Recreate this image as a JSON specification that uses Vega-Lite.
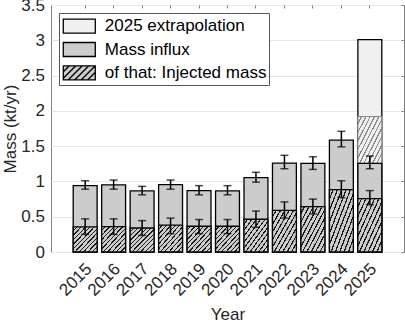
{
  "$schema": "https://vega.github.io/schema/vega-lite/v6.json",
  "width": 353,
  "height": 247,
  "autosize": {"type": "none"},
  "padding": {"left": 51, "top": 5, "right": 1, "bottom": 68},
  "config": {
    "font": "Liberation Sans",
    "view": {"stroke": "#808080", "strokeWidth": 1},
    "axis": {
      "labelFont": "Liberation Sans",
      "labelFontSize": 17,
      "labelColor": "#262626",
      "titleFont": "Liberation Sans",
      "titleFontSize": 17,
      "titleFontWeight": "normal",
      "titleColor": "#262626",
      "domain": false,
      "gridColor": "#e6e6e6",
      "gridWidth": 1,
      "tickColor": "#808080"
    }
  },
  "datasets": {
    "main": [
      {"year": "2015", "influx": 0.94, "ilo": 0.89, "ihi": 1.01, "injected": 0.355, "jlo": 0.25, "jhi": 0.47},
      {"year": "2016", "influx": 0.95, "ilo": 0.89, "ihi": 1.02, "injected": 0.36, "jlo": 0.25, "jhi": 0.47},
      {"year": "2017", "influx": 0.865, "ilo": 0.81, "ihi": 0.93, "injected": 0.34, "jlo": 0.235, "jhi": 0.445},
      {"year": "2018", "influx": 0.955, "ilo": 0.89, "ihi": 1.02, "injected": 0.38, "jlo": 0.26, "jhi": 0.48},
      {"year": "2019", "influx": 0.87, "ilo": 0.81, "ihi": 0.94, "injected": 0.365, "jlo": 0.26, "jhi": 0.46},
      {"year": "2020", "influx": 0.865, "ilo": 0.81, "ihi": 0.94, "injected": 0.365, "jlo": 0.26, "jhi": 0.46},
      {"year": "2021", "influx": 1.055, "ilo": 0.99, "ihi": 1.13, "injected": 0.464, "jlo": 0.35, "jhi": 0.58},
      {"year": "2022", "influx": 1.26, "ilo": 1.18, "ihi": 1.37, "injected": 0.59, "jlo": 0.48, "jhi": 0.71},
      {"year": "2023", "influx": 1.255, "ilo": 1.17, "ihi": 1.35, "injected": 0.644, "jlo": 0.54, "jhi": 0.75},
      {"year": "2024", "influx": 1.585, "ilo": 1.49, "ihi": 1.71, "injected": 0.885, "jlo": 0.77, "jhi": 1.01},
      {"year": "2025", "influx": 1.255, "ilo": 1.18, "ihi": 1.36, "injected": 0.757, "jlo": 0.67, "jhi": 0.87}
    ],
    "extra": [
      {"year": "2025", "total": 3.01, "base": 1.255, "injected": 1.92}
    ]
  },
  "layer": [
    {
      "data": {"name": "extra"},
      "mark": {"type": "bar", "stroke": "black", "strokeWidth": 1.3},
      "encoding": {
        "x": {
          "field": "year", "type": "ordinal",
          "scale": {"domain": ["2015","2016","2017","2018","2019","2020","2021","2022","2023","2024","2025"], "paddingInner": 0.16, "paddingOuter": 0.78},
          "axis": {"orient": "bottom", "labelAngle": -45, "labelAlign": "right", "labelBaseline": "middle", "labelPadding": 14, "labelOffset": 4, "ticks": false, "grid": false, "title": "Year", "titleY": 67, "titleBaseline": "alphabetic"}
        },
        "y": {
          "field": "total", "type": "quantitative",
          "scale": {"domain": [0, 3.5], "nice": false, "zero": true},
          "axis": {"orient": "left", "values": [0, 0.5, 1, 1.5, 2, 2.5, 3, 3.5], "format": "~g", "grid": true, "ticks": false, "labelPadding": 6.5, "title": "Mass (kt/yr)", "titlePadding": 1}
        },
        "fill": {
          "datum": "2025 extrapolation", "type": "nominal",
          "scale": {"domain": ["2025 extrapolation", "Mass influx", "of that: Injected mass"], "range": ["#f0f0f0", "#cccccc", "#cccccc"]},
          "legend": {
            "orient": "top-left", "offset": 8, "title": null,
            "labelFont": "Liberation Sans", "labelFontSize": 17, "labelColor": "black", "labelLimit": 300,
            "symbolType": "M-1.6,-0.7H1.6V0.7H-1.6Z", "symbolSize": 400, "symbolStrokeColor": "black", "symbolStrokeWidth": 1.3, "symbolOpacity": 1,
            "padding": 2.2, "rowPadding": 2.3, "labelOffset": 14.5, "symbolOffset": 7.1,
            "strokeColor": "#555555", "fillColor": "white", "cornerRadius": 0,
            "encode": {"symbols": {"update": {"shape": {"signal": "datum.value === 'of that: Injected mass' ? 'M-1.6,-0.7H1.6V0.7H-1.6Z M-1.6,-0.1L-1.0,-0.7 M-1.6,0.55L-0.35,-0.7 M-1.1,0.7L0.3,-0.7 M-0.45,0.7L0.95,-0.7 M0.2,0.7L1.6,-0.7 M0.85,0.7L1.6,-0.05' : 'M-1.6,-0.7H1.6V0.7H-1.6Z'"}}}}
          }
        }
      }
    },
    {
      "data": {"name": "extra"},
      "mark": {"type": "bar", "stroke": "#8a8a8a", "strokeWidth": 1,
        "fill": {"gradient": "linear", "x1": 0, "y1": 0, "x2": 1, "y2": 1, "stops": [
          {"offset": 0, "color": "#f0f0f0"},
          {"offset": 0.0636, "color": "#f0f0f0"}, {"offset": 0.0636, "color": "#8a8a8a"}, {"offset": 0.0909, "color": "#8a8a8a"}, {"offset": 0.0909, "color": "#f0f0f0"},
          {"offset": 0.1545, "color": "#f0f0f0"}, {"offset": 0.1545, "color": "#8a8a8a"}, {"offset": 0.1818, "color": "#8a8a8a"}, {"offset": 0.1818, "color": "#f0f0f0"},
          {"offset": 0.2455, "color": "#f0f0f0"}, {"offset": 0.2455, "color": "#8a8a8a"}, {"offset": 0.2727, "color": "#8a8a8a"}, {"offset": 0.2727, "color": "#f0f0f0"},
          {"offset": 0.3364, "color": "#f0f0f0"}, {"offset": 0.3364, "color": "#8a8a8a"}, {"offset": 0.3636, "color": "#8a8a8a"}, {"offset": 0.3636, "color": "#f0f0f0"},
          {"offset": 0.4273, "color": "#f0f0f0"}, {"offset": 0.4273, "color": "#8a8a8a"}, {"offset": 0.4545, "color": "#8a8a8a"}, {"offset": 0.4545, "color": "#f0f0f0"},
          {"offset": 0.5182, "color": "#f0f0f0"}, {"offset": 0.5182, "color": "#8a8a8a"}, {"offset": 0.5455, "color": "#8a8a8a"}, {"offset": 0.5455, "color": "#f0f0f0"},
          {"offset": 0.6091, "color": "#f0f0f0"}, {"offset": 0.6091, "color": "#8a8a8a"}, {"offset": 0.6364, "color": "#8a8a8a"}, {"offset": 0.6364, "color": "#f0f0f0"},
          {"offset": 0.7, "color": "#f0f0f0"}, {"offset": 0.7, "color": "#8a8a8a"}, {"offset": 0.7273, "color": "#8a8a8a"}, {"offset": 0.7273, "color": "#f0f0f0"},
          {"offset": 0.7909, "color": "#f0f0f0"}, {"offset": 0.7909, "color": "#8a8a8a"}, {"offset": 0.8182, "color": "#8a8a8a"}, {"offset": 0.8182, "color": "#f0f0f0"},
          {"offset": 0.8818, "color": "#f0f0f0"}, {"offset": 0.8818, "color": "#8a8a8a"}, {"offset": 0.9091, "color": "#8a8a8a"}, {"offset": 0.9091, "color": "#f0f0f0"},
          {"offset": 0.9727, "color": "#f0f0f0"}, {"offset": 0.9727, "color": "#8a8a8a"}, {"offset": 1, "color": "#8a8a8a"}
        ]}},
      "encoding": {
        "x": {"field": "year", "type": "ordinal", "axis": null},
        "y": {"field": "injected", "type": "quantitative", "axis": null},
        "y2": {"field": "base"}
      }
    },
    {
      "data": {"name": "main"},
      "mark": {"type": "bar", "stroke": "black", "strokeWidth": 1.3},
      "encoding": {
        "x": {"field": "year", "type": "ordinal", "axis": null},
        "y": {"field": "influx", "type": "quantitative", "axis": null},
        "fill": {"datum": "Mass influx", "type": "nominal"}
      }
    },
    {
      "data": {"name": "main"},
      "mark": {"type": "bar", "stroke": "black", "strokeWidth": 1.3,
        "fill": {"gradient": "linear", "x1": 0, "y1": 0, "x2": 1, "y2": 1, "stops": [
          {"offset": 0, "color": "#cccccc"},
          {"offset": 0.0636, "color": "#cccccc"}, {"offset": 0.0636, "color": "#1a1a1a"}, {"offset": 0.0909, "color": "#1a1a1a"}, {"offset": 0.0909, "color": "#cccccc"},
          {"offset": 0.1545, "color": "#cccccc"}, {"offset": 0.1545, "color": "#1a1a1a"}, {"offset": 0.1818, "color": "#1a1a1a"}, {"offset": 0.1818, "color": "#cccccc"},
          {"offset": 0.2455, "color": "#cccccc"}, {"offset": 0.2455, "color": "#1a1a1a"}, {"offset": 0.2727, "color": "#1a1a1a"}, {"offset": 0.2727, "color": "#cccccc"},
          {"offset": 0.3364, "color": "#cccccc"}, {"offset": 0.3364, "color": "#1a1a1a"}, {"offset": 0.3636, "color": "#1a1a1a"}, {"offset": 0.3636, "color": "#cccccc"},
          {"offset": 0.4273, "color": "#cccccc"}, {"offset": 0.4273, "color": "#1a1a1a"}, {"offset": 0.4545, "color": "#1a1a1a"}, {"offset": 0.4545, "color": "#cccccc"},
          {"offset": 0.5182, "color": "#cccccc"}, {"offset": 0.5182, "color": "#1a1a1a"}, {"offset": 0.5455, "color": "#1a1a1a"}, {"offset": 0.5455, "color": "#cccccc"},
          {"offset": 0.6091, "color": "#cccccc"}, {"offset": 0.6091, "color": "#1a1a1a"}, {"offset": 0.6364, "color": "#1a1a1a"}, {"offset": 0.6364, "color": "#cccccc"},
          {"offset": 0.7, "color": "#cccccc"}, {"offset": 0.7, "color": "#1a1a1a"}, {"offset": 0.7273, "color": "#1a1a1a"}, {"offset": 0.7273, "color": "#cccccc"},
          {"offset": 0.7909, "color": "#cccccc"}, {"offset": 0.7909, "color": "#1a1a1a"}, {"offset": 0.8182, "color": "#1a1a1a"}, {"offset": 0.8182, "color": "#cccccc"},
          {"offset": 0.8818, "color": "#cccccc"}, {"offset": 0.8818, "color": "#1a1a1a"}, {"offset": 0.9091, "color": "#1a1a1a"}, {"offset": 0.9091, "color": "#cccccc"},
          {"offset": 0.9727, "color": "#cccccc"}, {"offset": 0.9727, "color": "#1a1a1a"}, {"offset": 1, "color": "#1a1a1a"}
        ]}},
      "encoding": {
        "x": {"field": "year", "type": "ordinal", "axis": null},
        "y": {"field": "injected", "type": "quantitative", "axis": null}
      }
    },
    {
      "data": {"name": "main"},
      "mark": {"type": "errorbar", "color": "black", "thickness": 1.5, "ticks": {"size": 8, "thickness": 1.5, "color": "black"}},
      "encoding": {
        "x": {"field": "year", "type": "ordinal", "axis": null},
        "y": {"field": "ilo", "type": "quantitative", "axis": null},
        "y2": {"field": "ihi"}
      }
    },
    {
      "data": {"name": "main"},
      "mark": {"type": "errorbar", "color": "black", "thickness": 1.5, "ticks": {"size": 8, "thickness": 1.5, "color": "black"}},
      "encoding": {
        "x": {"field": "year", "type": "ordinal", "axis": null},
        "y": {"field": "jlo", "type": "quantitative", "axis": null},
        "y2": {"field": "jhi"}
      }
    },
    {
      "data": {"name": "main"},
      "mark": {"type": "point", "opacity": 0},
      "encoding": {
        "x": {"field": "year", "type": "ordinal", "axis": {"orient": "top", "labels": false, "ticks": true, "tickSize": -3, "grid": false, "title": null}},
        "y": {"field": "influx", "type": "quantitative", "axis": {"orient": "right", "values": [0, 0.5, 1, 1.5, 2, 2.5, 3, 3.5], "labels": false, "ticks": true, "tickSize": -3, "grid": false, "title": null}}
      }
    }
  ],
  "resolve": {"axis": {"x": "independent", "y": "independent"}}
}
